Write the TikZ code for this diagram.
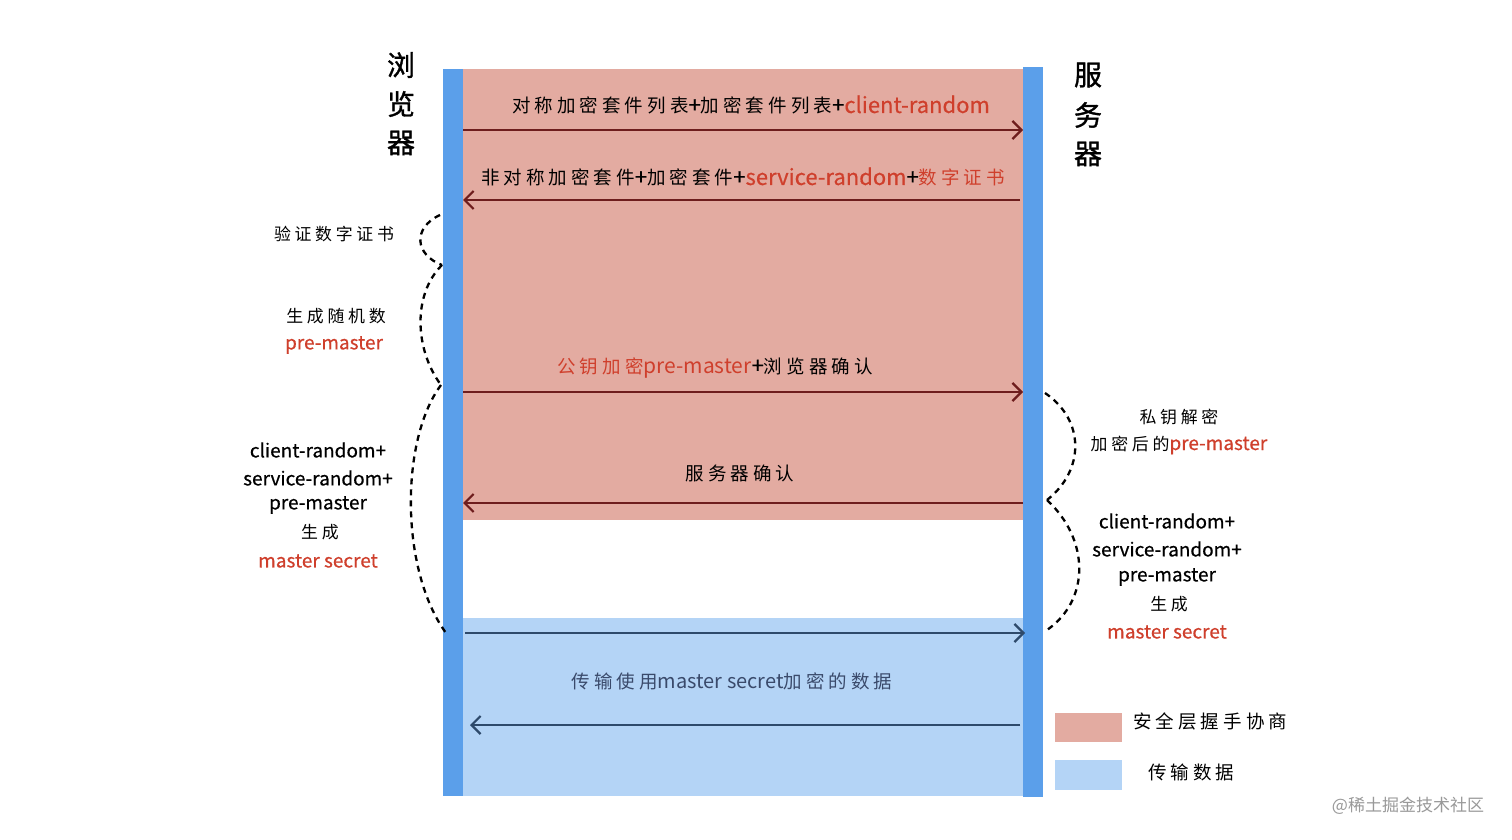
\documentclass[tikz,border=0pt]{standalone}
\usepackage{fontspec}
\setmainfont[FakeBold=0.5]{Noto Sans CJK SC}
\newfontfamily\cjk[LetterSpace=22]{Noto Sans CJK SC}
\newfontfamily\cjkb[LetterSpace=22,FakeBold=1.2]{Noto Sans CJK SC}
\newfontfamily\plain{Noto Sans CJK SC}
\usetikzlibrary{arrows.meta}
\definecolor{pinkbg}{HTML}{E3ABA1}
\definecolor{bluebg}{HTML}{B4D4F6}
\definecolor{bar}{HTML}{5B9FEA}
\definecolor{darkred}{HTML}{6E1D1D}
\definecolor{darkblue}{HTML}{2E4A6B}
\definecolor{redtxt}{HTML}{CF3F2C}
\definecolor{bluetxt}{HTML}{3A4A6B}
\newcommand{\zh}[1]{{\cjk\fontsize{18.5}{22}\selectfont #1}}
\newcommand{\zs}[1]{{\cjk\fontsize{16.9}{20}\selectfont #1}}
\newcommand{\lt}[1]{{\fontsize{22}{24}\selectfont #1}}
\newcommand{\rd}[1]{\textcolor{redtxt}{#1}}
\tikzset{
  lbl/.style={inner sep=0pt, font=\fontsize{17}{20}\selectfont, text=black},
  side/.style={inner sep=0pt, font=\fontsize{19}{22}\selectfont, text=black},
  big/.style={inner sep=0pt, font=\fontsize{28}{30}\selectfont\cjkb},
  msgr/.style={line width=2.2pt, draw=darkred, -{Straight Barb[length=9pt,width=18pt,line width=2.2pt]}},
  msgb/.style={line width=2.2pt, draw=darkblue, -{Straight Barb[length=9pt,width=18pt,line width=2.2pt]}},
  brace/.style={line width=2.3pt, dash pattern=on 6pt off 5pt},
}
\begin{document}
\begin{tikzpicture}[x=1pt,y=-1pt]
\useasboundingbox (0,0) rectangle (1512,840);
\fill[white] (0,0) rectangle (1512,840);
% regions
\fill[pinkbg] (463,69) rectangle (1023,520);
\fill[bluebg] (463,618) rectangle (1023,796);
% lifelines
\fill[bar] (443,69) rectangle (463,796);
\fill[bar] (1023,67) rectangle (1043,797);
% coordinates on lifelines
\coordinate (L1) at (463,130); \coordinate (R1) at (1023,130);
\coordinate (R2) at (1020,200); \coordinate (L2) at (463,200);
\coordinate (L3) at (463,392); \coordinate (R3) at (1023,392);
\coordinate (R4) at (1023,503); \coordinate (L4) at (463,503);
\coordinate (L5) at (465,633); \coordinate (R5) at (1025,633);
\coordinate (R6) at (1020,725); \coordinate (L6) at (470,725);
\draw[msgr] (L1) -- (R1);
\draw[msgr] (R2) -- (L2);
\draw[msgr] (L3) -- (R3);
\draw[msgr] (R4) -- (L4);
\draw[msgb] (L5) -- (R5);
\draw[msgb] (R6) -- (L6);
% message labels
\node[lbl] (m1) at (751,105) {\zh{对称加密套件列表}\lt{+}\zh{加密套件列表}\lt{+}\rd{\lt{client-random}}};
\node[lbl] (m2) at (743,177) {\zh{非对称加密套件}\lt{+}\zh{加密套件}\lt{+}\rd{\lt{service-random}}\lt{+}\rd{\zh{数字证书}}};
\node[lbl] (m3) at (715,368) {\rd{\zh{公钥加密}{\plain\fontsize{21}{22}\selectfont pre-master}}\lt{+}\zh{浏览器确认}};
\node[lbl] (m4) at (740,473) {\zh{服务器确认}};
\node[lbl, text=bluetxt] (m5) at (732,681) {\zh{传输使用}{\plain\fontsize{20}{22}\selectfont master secret}\zh{加密的数据}};
% titles
\node[big] (b1) at (401,65) {浏};
\node[big] (b2) at (401,104) {览};
\node[big] (b3) at (401,143) {器};
\node[big] (s1) at (1088,75) {服};
\node[big] (s2) at (1088,115) {务};
\node[big] (s3) at (1088,154) {器};
% left side notes
\node[lbl] (n1) at (334,234) {\zs{验证数字证书}};
\node[lbl] (n2) at (336,316) {\zs{生成随机数}};
\node[side, text=redtxt] (n3) at (334,345) {pre-master};
\node[side] (n4) at (318,450) {client-random+};
\node[side] (n5) at (318,478) {service-random+};
\node[side] (n6) at (318,505) {pre-master};
\node[lbl] (n7) at (320,532) {\zs{生成}};
\node[side, text=redtxt] (n8) at (318,561) {master secret};
% right side notes
\node[lbl] (r1) at (1179,417) {\zs{私钥解密}};
\node[lbl] (r2) at (1179,445) {\zs{加密后的}\rd{\fontsize{19}{22}\selectfont pre-master}};
\node[side] (r3) at (1167,521) {client-random+};
\node[side] (r4) at (1167,549) {service-random+};
\node[side] (r5) at (1167,577) {pre-master};
\node[lbl] (r6) at (1169,604) {\zs{生成}};
\node[side, text=redtxt] (r7) at (1167,632) {master secret};
% dashed braces
\coordinate (a0) at (440,215); \coordinate (a1) at (442,265);
\coordinate (a2) at (441,385); \coordinate (a3) at (446,633);
\draw[brace] (a0) .. controls (412,228) and (415,255) .. (a1);
\draw[brace] (a1) .. controls (412,295) and (415,350) .. (a2);
\draw[brace] (a2) .. controls (400,440) and (400,570) .. (a3);
\coordinate (b0) at (1045,393); \coordinate (b1) at (1047,500); \coordinate (b2) at (1047,630);
\draw[brace] (b0) .. controls (1085,420) and (1085,470) .. (b1);
\draw[brace] (b1) .. controls (1090,540) and (1090,600) .. (b2);
% legend
\fill[pinkbg] (1055,713) rectangle (1122,742);
\fill[bluebg] (1055,760) rectangle (1122,790);
\node[lbl, anchor=west] (g1) at (1133,721) {\zh{安全层握手协商}};
\node[lbl, anchor=west] (g2) at (1148,772) {\zh{传输数据}};
% watermark
\node[inner sep=0pt, text=black!40, font=\plain\fontsize{17}{20}\selectfont] (wm) at (1408,806) {@稀土掘金技术社区};
\end{tikzpicture}
\end{document}
